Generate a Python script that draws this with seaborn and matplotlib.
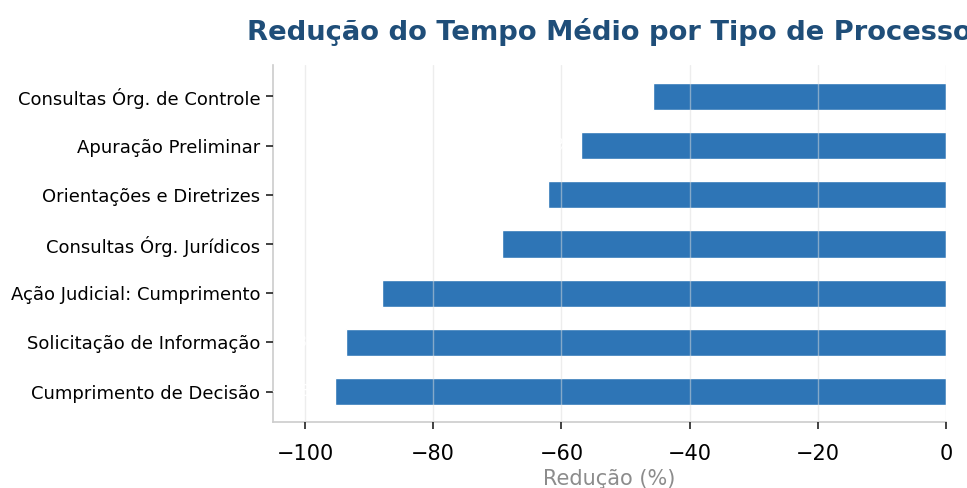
import matplotlib
matplotlib.use("Agg")
import matplotlib.pyplot as plt
import seaborn as sns
import pandas as pd

categories = [
    "Consultas Órg. de Controle",
    "Apuração Preliminar",
    "Orientações e Diretrizes",
    "Consultas Órg. Jurídicos",
    "Ação Judicial: Cumprimento",
    "Solicitação de Informação",
    "Cumprimento de Decisão",
]
reducao = [-45.7, -56.9, -62.1, -69.3, -88.0, -93.6, -95.3]

df = pd.DataFrame({"Tipo": categories, "Redução": reducao})

sns.set_theme(style="ticks")
plt.rcParams["font.family"] = ["DejaVu Sans"]
plt.rcParams["text.color"] = "black"
plt.rcParams["xtick.color"] = "black"
plt.rcParams["ytick.color"] = "black"

fig = plt.figure(figsize=(9.67, 4.88), dpi=100)
ax = fig.add_axes([0.2823, 0.135, 0.6960, 0.732])

sns.barplot(data=df, x="Redução", y="Tipo", orient="h", color="#2E75B6",
            saturation=1, width=0.55, ax=ax)

for i, v in enumerate(reducao):
    ax.text(v - 1.5, i, f"{v:.1f}%", ha="right", va="center", color="white",
            fontsize=11, clip_on=False, zorder=5)

ax.set_xlim(-105, 0)
ax.set_ylim(6.62, -0.64)
ax.grid(axis="x", color="#dddddd", alpha=0.5, linewidth=1)
ax.set_axisbelow(False)
for s in ["top", "right"]:
    ax.spines[s].set_visible(False)
for s in ["left", "bottom"]:
    ax.spines[s].set_color("#cccccc")
    ax.spines[s].set_linewidth(1.2)

ax.tick_params(axis="x", labelsize=15, length=5, width=1.2, color="#222222",
               labelcolor="black", pad=10.5, bottom=True)
ax.tick_params(axis="y", labelsize=13, length=5, width=1.2, color="#222222",
               labelcolor="black", pad=4, left=True)
ax.set_ylabel("")
ax.set_xlabel("Redução (%)", fontsize=15, color="#8c8c8c", labelpad=3.5)
ax.set_title("Redução do Tempo Médio por Tipo de Processo", fontsize=19.7,
             fontweight="bold", color="#1F4E79", pad=18)

fig.savefig("out.png", dpi=100)
